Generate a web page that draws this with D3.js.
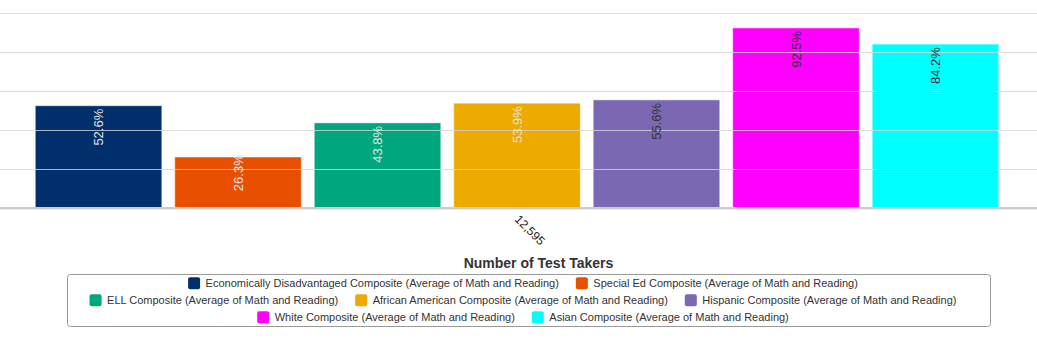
<!DOCTYPE html>
<html>
<head>
<meta charset="utf-8">
<script src="https://cdn.jsdelivr.net/npm/d3@7"></script>
<style>
  html, body { margin: 0; padding: 0; background: #fff; }
  svg { display: block; font-family: "Liberation Sans", Arial, Helvetica, sans-serif; }
</style>
</head>
<body>
<svg id="chart" width="1037" height="339"></svg>
<script>
// ---- data ----
const categories = ["12,595"];
const seriesNames = [
  "Economically Disadvantaged Composite (Average of Math and Reading)",
  "Special Ed Composite (Average of Math and Reading)",
  "ELL Composite (Average of Math and Reading)",
  "African American Composite (Average of Math and Reading)",
  "Hispanic Composite (Average of Math and Reading)",
  "White Composite (Average of Math and Reading)",
  "Asian Composite (Average of Math and Reading)"
];
const seriesValues = [52.6, 26.3, 43.8, 53.9, 55.6, 92.5, 84.2];
const gridTicks = [0, 20, 40, 60, 80, 100];
const axisTitle = "Number of Test Takers";

// ---- styles ----
const colors = ["#002F6C", "#E85000", "#00A67E", "#EDAA00", "#7B68B3", "#FF00FF", "#00FFFF"];
const labelColors = ["#e2e2e2", "#e2e2e2", "#e2e2e2", "#e2e2e2", "#333333", "#333333", "#333333"];
const legendRows = [[0, 1], [2, 3, 4], [5, 6]];

const svg = d3.select("#chart");

const y = d3.scaleLinear().domain([0, 100]).range([208.3, 13.3]);
const x0 = d3.scaleBand().domain(categories).range([0, 1034]).paddingInner(0).paddingOuter(0.0295);
const x1 = d3.scaleBand().domain(d3.range(seriesValues.length)).range([0, x0.bandwidth()])
  .paddingInner(0.093).paddingOuter(0.0465);

// bars
const g = svg.append("g");
categories.forEach(cat => {
  const gc = g.append("g").attr("transform", `translate(${x0(cat)},0)`);
  gc.selectAll("rect").data(seriesValues).join("rect")
    .attr("x", (d, i) => x1(i))
    .attr("y", d => y(d))
    .attr("width", x1.bandwidth())
    .attr("height", d => y(0) - y(d))
    .attr("fill", (d, i) => colors[i])
    .attr("stroke", "#ffffff")
    .attr("stroke-opacity", 0.45)
    .attr("stroke-width", 1);
});

// gridlines (drawn over bars)
svg.append("g").selectAll("line").data(gridTicks.filter(t => t > 0)).join("line")
  .attr("x1", 0).attr("x2", 1037)
  .attr("y1", d => Math.round(y(d)) + 0.5).attr("y2", d => Math.round(y(d)) + 0.5)
  .attr("stroke", "#d6d6d6").attr("stroke-opacity", 0.8).attr("stroke-width", 1);

// data labels
categories.forEach(cat => {
  svg.append("g").selectAll("text").data(seriesValues).join("text")
    .attr("transform", (d, i) => {
      const cx = x0(cat) + x1(i) + x1.bandwidth() / 2;
      const yy = Math.min(y(d) + 3, y(0) - 54);
      return `translate(${cx},${yy}) rotate(-90)`;
    })
    .attr("text-anchor", "end")
    .attr("dy", "0.35em")
    .attr("font-size", 13)
    .attr("fill", (d, i) => labelColors[i])
    .text(d => d.toFixed(1) + "%");
});

// x axis line
svg.append("line").attr("x1", 0).attr("x2", 1037).attr("y1", 208).attr("y2", 208)
  .attr("stroke", "#cccccc").attr("stroke-width", 2);
svg.append("line").attr("x1", 0).attr("x2", 1037).attr("y1", 209.5).attr("y2", 209.5)
  .attr("stroke", "#ececec").attr("stroke-width", 1);

// x tick labels
categories.forEach(cat => {
  const cx = x0(cat) + x0.bandwidth() / 2;
  svg.append("text")
    .attr("transform", `translate(${cx - 3},${220}) rotate(45)`)
    .attr("text-anchor", "start")
    .attr("font-size", 12)
    .attr("fill", "#222")
    .text(cat);
});

// axis title
svg.append("text")
  .attr("x", 538.5).attr("y", 268)
  .attr("text-anchor", "middle")
  .attr("font-size", 14).attr("font-weight", "bold")
  .attr("fill", "#333")
  .text(axisTitle);

// legend
svg.append("rect")
  .attr("x", 67.5).attr("y", 274.5).attr("width", 923).attr("height", 52)
  .attr("rx", 3).attr("fill", "none").attr("stroke", "#999").attr("stroke-width", 1);

const legendCenter = 523;
const swatch = 12, swGap = 5.5, itemGap = 17;
legendRows.forEach((row, r) => {
  const baseY = 287.3 + r * 17;
  const gr = svg.append("g");
  let xPos = 0;
  row.forEach(i => {
    const it = gr.append("g").attr("transform", `translate(${xPos},0)`);
    it.append("rect").attr("x", 0).attr("y", baseY - 10).attr("width", swatch).attr("height", swatch)
      .attr("rx", 2).attr("fill", colors[i]);
    const t = it.append("text").attr("x", swatch + swGap).attr("y", baseY)
      .attr("font-size", 11).attr("fill", "#333").text(seriesNames[i]);
    const w = t.node().getComputedTextLength();
    xPos += swatch + swGap + w + itemGap;
  });
  const total = xPos - itemGap;
  gr.attr("transform", `translate(${legendCenter - total / 2},0)`);
});
</script>
</body>
</html>
